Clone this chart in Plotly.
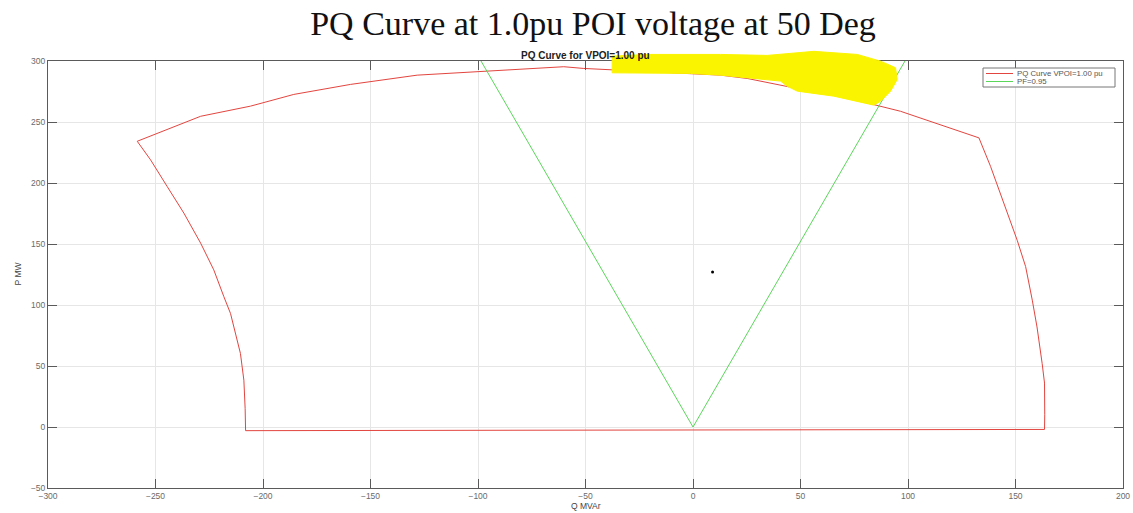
import plotly.graph_objects as go

# ---- data ----
pq_q = [-208.1, 163.5, 163.6, 163.5, 162.4, 160.0, 157.8, 154.7, 150.8, 144.6, 138.4, 133.0,
        113.6, 96.5, 84.0, 68.6, 46.9, 25.2, 12.8, -1.2, -43.0, -50.8, -60.1, -97.3, -128.3,
        -159.3, -185.7, -205.8, -229.0, -258.5,
        -252.3, -244.6, -236.8, -229.0, -222.9, -218.2, -215.1, -210.5, -208.9, -208.3, -208.1]
pq_p = [-3.0, -2.0, 10.0, 36.0, 52.0, 82.0, 104.0, 131.5, 153.0, 183.6, 213.6, 237.0,
        248.7, 258.8, 264.3, 271.2, 278.0, 285.7, 288.4, 289.5, 293.0, 293.9, 295.3, 291.7, 288.4,
        280.8, 272.6, 263.0, 254.7, 234.2,
        219.0, 197.2, 175.3, 150.7, 128.8, 106.8, 93.0, 60.3, 38.4, 15.0, -3.0]

pf_q = [-98.6, 0.0, 98.6]
pf_p = [300.0, 0.0, 300.0]

dot_q = [9.1]
dot_p = [127.0]

# yellow marker-pen highlight over the top right of the curve (Q, P)
hl_q = [-37.6, -21.3, 12.8, 34.5, 56.2, 76.4, 87.2, 94.2, 95.0, 91.9, 87.2, 84.1,
        65.5, 48.5, 43.8, 40.7, 12.8, -1.2, -37.6]
hl_p = [304.0, 305.4, 305.4, 304.6, 307.9, 305.4, 299.9, 294.5, 284.9, 275.3, 267.0, 263.8,
        271.2, 275.3, 279.4, 283.5, 288.4, 289.8, 290.3]

x_ticks = [-300, -250, -200, -150, -100, -50, 0, 50, 100, 150, 200]
y_ticks = [-50, 0, 50, 100, 150, 200, 250, 300]
x_range = [-300, 200]
y_range = [-50, 300]

main_title = "PQ Curve at 1.0pu POI voltage at 50 Deg"
sub_title = "PQ Curve for VPOI=1.00 pu"
legend_names = ["PQ Curve VPOI=1.00 pu", "PF=0.95"]
red = "#e2453f"
green = "#5ad65a"

W, H = 1133, 513
L, R, T, B = 48, 10, 61, 25
PW, PH = W - L - R, H - T - B


def px(x):
    return (x - L) / PW


def py(y):
    return (H - B - y) / PH


fig = go.Figure()
fig.add_trace(go.Scatter(x=pq_q, y=pq_p, mode="lines", name=legend_names[0],
                         line=dict(color=red, width=1), showlegend=False))
fig.add_trace(go.Scatter(x=pf_q, y=pf_p, mode="lines", name=legend_names[1],
                         line=dict(color=green, width=1), showlegend=False))
fig.add_trace(go.Scatter(x=dot_q, y=dot_p, mode="markers", showlegend=False,
                         marker=dict(color="black", size=3)))


def yp(p):
    return (p - y_range[0]) / (y_range[1] - y_range[0])


path = "M " + " L ".join(f"{q},{yp(p):.4f}" for q, p in zip(hl_q, hl_p)) + " Z"
fig.add_shape(type="path", path=path, xref="x", yref="paper",
              fillcolor="#fbf400", line=dict(color="#fbf400", width=1), layer="above")

# legend box drawn by hand (MATLAB-style compact legend)
fig.add_shape(type="rect", xref="paper", yref="paper", x0=px(983), x1=px(1115), y0=py(87), y1=py(68),
              fillcolor="white", line=dict(color="#777777", width=1), layer="above")
for i, (name, col) in enumerate(zip(legend_names, [red, green])):
    yy = 73.5 + i * 8
    fig.add_shape(type="line", xref="paper", yref="paper", x0=px(986), x1=px(1013), y0=py(yy), y1=py(yy),
                  line=dict(color=col, width=1), layer="above")
    fig.add_annotation(text=name, x=px(1015), y=py(yy), xref="paper", yref="paper", showarrow=False,
                       xanchor="left", yanchor="middle",
                       font=dict(family="Liberation Sans, Arial", size=7.8, color="#555555"))

axis_common = dict(showgrid=True, gridcolor="#e6e6e6", gridwidth=1, automargin=False,
                   showline=True, linecolor="#5a5a5a", linewidth=1, mirror="allticks",
                   ticks="inside", ticklen=9, tickcolor="#5a5a5a", tickwidth=1,
                   zeroline=False, tickfont=dict(family="Liberation Sans, Arial", size=8.5, color="#6a6a6a"))

fig.update_xaxes(range=x_range, tickvals=x_ticks, **axis_common)
fig.update_yaxes(range=y_range, tickvals=y_ticks, **axis_common)

fig.add_annotation(text="<b>" + sub_title + "</b>", x=0.5, y=py(56), xref="paper", yref="paper",
                   showarrow=False, xanchor="center", yanchor="middle",
                   font=dict(family="Liberation Sans, Arial", size=10, color="#222222"))
fig.add_annotation(text="Q MVAr", x=0.5, y=py(506), xref="paper", yref="paper",
                   showarrow=False, xanchor="center", yanchor="middle",
                   font=dict(family="Liberation Sans, Arial", size=8.5, color="#444444"))
fig.add_annotation(text="P MW", x=px(17.5), y=py(274), xref="paper", yref="paper",
                   showarrow=False, xanchor="center", yanchor="middle", textangle=-90,
                   font=dict(family="Liberation Sans, Arial", size=8.5, color="#444444"))

fig.update_layout(
    width=W, height=H,
    margin=dict(l=L, r=R, t=T, b=B),
    paper_bgcolor="white", plot_bgcolor="white",
    title=dict(text=main_title, x=593 / W, xanchor="center", y=1 - 23 / H, yanchor="middle",
               font=dict(family="Liberation Serif, Times New Roman", size=34, color="#111111")),
    showlegend=False,
)

fig.write_html("out.html", config={"displayModeBar": False},
               post_script="document.body.style.margin='0';document.body.style.overflow='hidden';")
